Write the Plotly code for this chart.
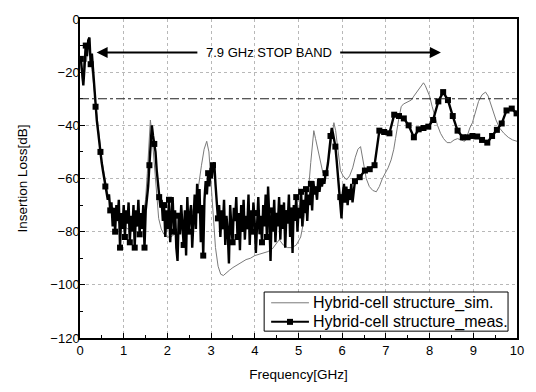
import numpy as np
import plotly.graph_objects as go

# ---------------- data ----------------
sim_freq = [0.00, 0.03, 0.06, 0.09, 0.12, 0.15, 0.18, 0.21, 0.24, 0.27, 0.30, 0.34, 0.38, 0.42, 0.46,
            0.50, 0.55, 0.60, 0.65, 0.70, 0.80, 0.90, 1.00, 1.10, 1.20, 1.30, 1.40, 1.45, 1.50, 1.54,
            1.58, 1.61, 1.64, 1.68, 1.72, 1.76, 1.80, 1.86, 1.92, 2.00, 2.08, 2.16, 2.25, 2.35, 2.45,
            2.55, 2.65, 2.72, 2.78, 2.84, 2.90, 2.95, 3.00, 3.05, 3.10, 3.16, 3.22, 3.28, 3.34, 3.42,
            3.50, 3.60, 3.70, 3.80, 3.90, 4.00, 4.10, 4.20, 4.30, 4.40, 4.50, 4.56, 4.65, 4.75, 4.85,
            4.95, 5.05, 5.12, 5.18, 5.24, 5.28, 5.32, 5.35, 5.39, 5.44, 5.50, 5.56, 5.62, 5.67, 5.72,
            5.77, 5.81, 5.85, 5.90, 5.96, 6.02, 6.10, 6.17, 6.24, 6.30, 6.36, 6.42, 6.48, 6.55, 6.62,
            6.70, 6.78, 6.85, 6.92, 6.98, 7.05, 7.12, 7.18, 7.22, 7.26, 7.30, 7.35, 7.40, 7.46, 7.52,
            7.58, 7.64, 7.70, 7.76, 7.82, 7.86, 7.90, 7.95, 8.00, 8.06, 8.12, 8.18, 8.25, 8.32, 8.40,
            8.48, 8.56, 8.64, 8.72, 8.80, 8.86, 8.92, 8.98, 9.05, 9.12, 9.20, 9.28, 9.34, 9.40, 9.46,
            9.52, 9.60, 9.70, 9.80, 9.90, 10.0]
sim_db = [-14, -20, -24, -15, -11, -16, -10, -8, -15, -19, -23, -29, -36, -42, -48,
          -53, -58, -63, -67, -70, -74, -77, -78, -79, -79, -78, -77, -74, -68, -58,
          -46, -38, -42, -50, -60, -69, -75, -79, -81, -82, -82, -81, -80, -79, -77,
          -74, -68, -62, -55, -49, -46, -50, -62, -75, -86, -93, -96, -96.5, -95.5, -94.5,
          -93.5, -92.5, -91.5, -90.5, -90, -89, -88.5, -88, -87.5, -86.5, -84, -83, -85, -86, -86,
          -85, -82, -76, -68, -62, -54, -46, -42, -45, -49, -54, -58, -58, -55, -50,
          -44, -39, -42, -50, -57, -59, -60.5, -59, -56, -52, -49, -48, -53, -60, -63,
          -64.5, -65, -63, -60, -58, -56, -53, -49, -45, -40, -37, -33, -32, -31.5, -31,
          -30.5, -29, -27.5, -26, -25, -24, -25, -27, -29, -33, -37, -40, -43, -45, -46.5,
          -46.5, -45.5, -45, -45.5, -46, -44, -41, -39, -35, -31, -28.5, -27.5, -29, -32, -35,
          -38, -41, -43, -44.5, -45.5, -46]

# measured: dense sweep (start 0.02 GHz, step 0.028 GHz) up to ~6.3 GHz
meas_start_ghz = 0.02
meas_step_ghz = 0.028
meas_dense_db = [
    -15, -19, -25, -18, -10, -14, -8, -7, -17, -13, -20, -24, -33, -38, -42, -47, -50, -54, -57, -60,
    -63, -65, -68, -66, -72, -69, -78, -71, -80, -70, -76, -68, -86, -73, -79, -70, -82, -72, -77, -69,
    -84, -74, -80, -70, -86, -72, -78, -68, -81, -73, -79, -70, -86, -72, -68, -63, -55, -45, -40, -44,
    -47, -50, -57, -62, -67, -71, -68, -76, -70, -82, -72, -79, -68, -84, -74, -67, -80, -72, -86, -91,
    -74, -81, -70, -78, -85, -72, -89, -67, -80, -74, -70, -86, -75, -66, -79, -62, -72, -64, -84, -70,
    -89, -68, -61, -66, -58, -63, -56, -60, -55, -54, -62, -68, -75, -70, -82, -72, -78, -68, -85, -74,
    -80, -92, -70, -78, -84, -71, -76, -67, -82, -73, -87, -70, -79, -68, -83, -74, -78, -66, -85, -72,
    -80, -69, -76, -88, -73, -67, -81, -74, -84, -70, -78, -66, -82, -63, -75, -91, -72, -80, -68, -84,
    -74, -78, -67, -83, -71, -79, -69, -86, -73, -77, -66, -82, -72, -88, -70, -76, -67, -80, -71, -75,
    -65, -78, -68, -73, -64, -76, -66, -70, -62, -72, -61, -66, -64, -68, -60, -65, -61, -63, -60, -62,
    -58, -57, -54, -49, -44, -41, -43, -46, -48, -53, -58, -62, -67, -75, -66, -62, -68, -63, -70, -64,
    -67, -62, -69, -64, -61]
# measured: coarser part (marker points) above ~6.3 GHz
meas_sparse_freq = [6.40, 6.52, 6.63, 6.74, 6.85, 6.96, 7.08, 7.19, 7.30, 7.41, 7.52, 7.64, 7.75, 7.86,
                    7.97, 8.08, 8.20, 8.31, 8.42, 8.53, 8.64, 8.76, 8.87, 8.98, 9.09, 9.20, 9.32, 9.43,
                    9.54, 9.65, 9.76, 9.88, 9.99]
meas_sparse_db = [-59.5, -57, -56.5, -55, -42, -42.5, -43, -36, -36.5, -37.4, -40, -44.5, -41.5, -41,
                  -40.5, -38, -31, -27.5, -30.5, -36.5, -42, -44.5, -44.5, -44, -44.2, -45.5, -46.5, -44,
                  -41.7, -39.3, -34.4, -33.7, -35.5]

threshold_db = -30
band_start_ghz, band_end_ghz, band_level_db = 0.38, 8.26, -12.6
band_label = "7.9 GHz STOP BAND"
x_ticks = list(range(0, 11))
y_ticks = list(range(-120, 1, 20))
series_names = ["Hybrid-cell structure_sim.", "Hybrid-cell structure_meas."]

# ---------------- build ----------------
meas_dense_freq = meas_start_ghz + meas_step_ghz * np.arange(len(meas_dense_db))
meas_freq = np.concatenate([meas_dense_freq, meas_sparse_freq])
meas_db = np.concatenate([meas_dense_db, meas_sparse_db])
n_dense = len(meas_dense_db)
marker_idx = np.concatenate([np.arange(0, n_dense, 4), np.arange(n_dense, len(meas_db))])

FONT = "Liberation Sans, Arial, sans-serif"
SIM_COLOR = "#7a7a7a"
fig = go.Figure()

fig.add_trace(go.Scatter(x=sim_freq, y=sim_db, mode="lines",
                         line=dict(color=SIM_COLOR, width=1),
                         name=series_names[0], showlegend=False))
fig.add_trace(go.Scatter(x=meas_freq, y=meas_db, mode="lines",
                         line=dict(color="black", width=2.4), name=series_names[1], showlegend=False))
fig.add_trace(go.Scatter(x=meas_freq[marker_idx], y=meas_db[marker_idx], mode="markers",
                         marker=dict(symbol="square", size=6, color="black"),
                         name=series_names[1], showlegend=False))

fig.add_shape(type="line", xref="x", yref="y", x0=0, x1=10, y0=threshold_db, y1=threshold_db,
              line=dict(color="#222", width=1.2, dash="dashdot"))

mid = (band_start_ghz + band_end_ghz) / 2
fig.add_annotation(x=mid, y=band_level_db, text=band_label, showarrow=False,
                   font=dict(family=FONT, size=13, color="black"))
fig.add_annotation(x=band_start_ghz, y=band_level_db, ax=mid - 1.6, ay=band_level_db,
                   xref="x", yref="y", axref="x", ayref="y", text="", showarrow=True,
                   arrowhead=2, arrowsize=1.1, arrowwidth=2, arrowcolor="black")
fig.add_annotation(x=band_end_ghz, y=band_level_db, ax=mid + 1.6, ay=band_level_db,
                   xref="x", yref="y", axref="x", ayref="y", text="", showarrow=True,
                   arrowhead=2, arrowsize=1.1, arrowwidth=2, arrowcolor="black")

# ---- legend box (drawn to match the original's compact legend) ----
lg_x0, lg_x1, lg_y0, lg_y1 = 0.4214, 0.9795, 0.0215, 0.1442
row_y = [0.1104, 0.0506]
smp_x0, smp_x1, smp_mid, txt_x = 0.4374, 0.5239, 0.4806, 0.5285
fig.add_shape(type="rect", xref="paper", yref="paper", x0=lg_x0, x1=lg_x1, y0=lg_y0, y1=lg_y1,
              line=dict(color="black", width=1), fillcolor="white", layer="above")
fig.add_shape(type="line", xref="paper", yref="paper", x0=smp_x0, x1=smp_x1, y0=row_y[0], y1=row_y[0],
              line=dict(color=SIM_COLOR, width=1), layer="above")
fig.add_shape(type="line", xref="paper", yref="paper", x0=smp_x0, x1=smp_x1, y0=row_y[1], y1=row_y[1],
              line=dict(color="black", width=2), layer="above")
fig.add_shape(type="rect", xref="paper", yref="paper", xsizemode="pixel", ysizemode="pixel",
              xanchor=smp_mid, yanchor=row_y[1], x0=-3, x1=3, y0=-3, y1=3,
              line=dict(color="black", width=0), fillcolor="black", layer="above")
for name, ry in zip(series_names, row_y):
    fig.add_annotation(xref="paper", yref="paper", x=txt_x, y=ry, xanchor="left", yanchor="middle",
                       text=name, showarrow=False, font=dict(family=FONT, size=16, color="black"))

axis_common = dict(showline=True, mirror=True, linecolor="black", linewidth=1.5,
                   ticks="inside", ticklen=5, tickcolor="black", zeroline=False,
                   showgrid=True, gridcolor="#b8b8b8", griddash="dot", gridwidth=1,
                   tickfont=dict(family=FONT, size=13, color="black"))

fig.update_xaxes(range=[0, 10], tickvals=x_ticks, **axis_common,
                 minor=dict(dtick=0.5, ticks="inside", ticklen=3, tickcolor="black", showgrid=False),
                 title=dict(text="Frequency[GHz]", font=dict(family=FONT, size=13.5, color="black"),
                            standoff=12))
fig.update_yaxes(range=[-120, 0], tickvals=y_ticks, **axis_common,
                 ticklabelstandoff=-4,
                 minor=dict(dtick=10, ticks="inside", ticklen=3, tickcolor="black", showgrid=False),
                 title=dict(text="Insertion Loss[dB]", font=dict(family=FONT, size=13.5, color="black"),
                            standoff=20))

fig.update_layout(
    width=536, height=392,
    margin=dict(l=80, r=17, t=15, b=51),
    paper_bgcolor="white", plot_bgcolor="white",
    font=dict(family=FONT, color="black"),
    showlegend=False,
)

fig.write_html("out.html")
